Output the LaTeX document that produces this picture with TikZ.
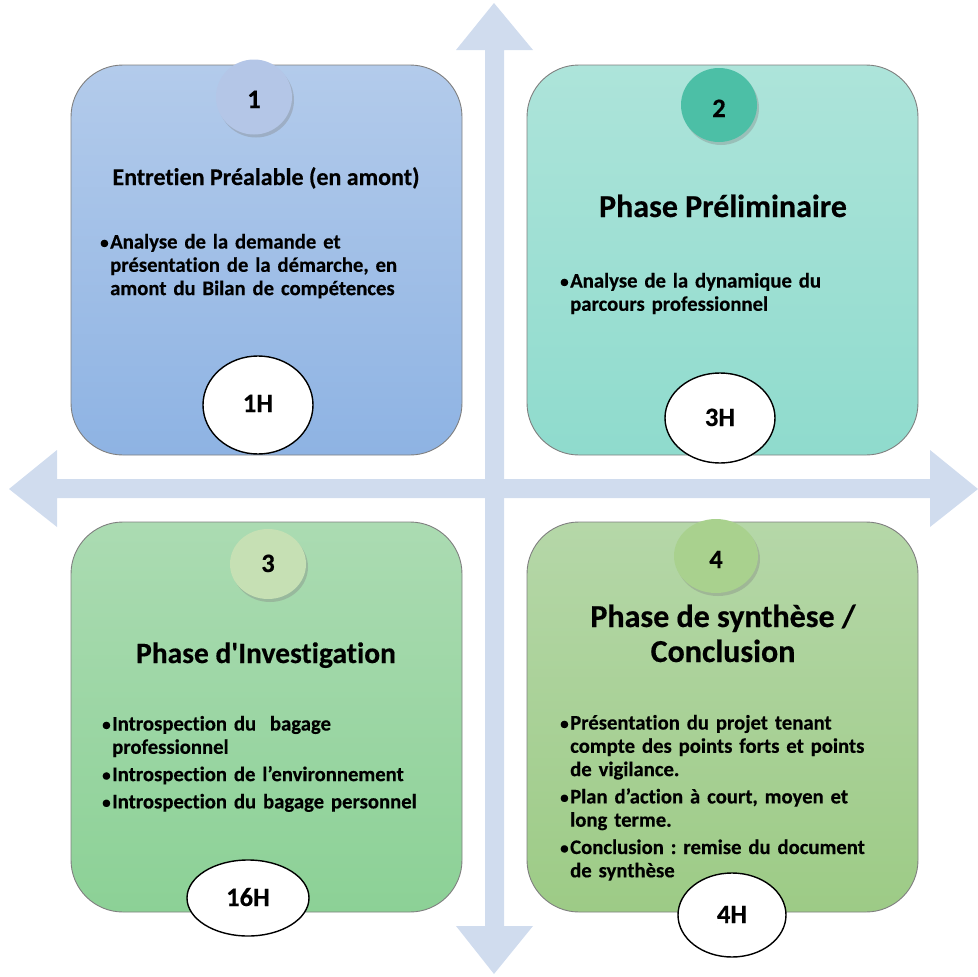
\documentclass[tikz,border=0pt]{standalone}
\usepackage{fontspec}
\setmainfont{Carlito}[Ligatures={TeXOff,NoCommon},BoldFeatures={FakeBold=0.4}]
\usetikzlibrary{shadows}
\frenchspacing
\definecolor{arrowc}{HTML}{D0DCEE}
\definecolor{boxline}{HTML}{7F7F7F}
\definecolor{aTop}{HTML}{B3CBEB}\definecolor{aBot}{HTML}{8EB3E3}
\definecolor{bTop}{HTML}{ADE4DA}\definecolor{bBot}{HTML}{8FDBCD}
\definecolor{cTop}{HTML}{ABDBB2}\definecolor{cBot}{HTML}{8CD196}
\definecolor{dTop}{HTML}{B5D7A8}\definecolor{dBot}{HTML}{9DCB86}
\definecolor{cA}{HTML}{B4C6E7}
\definecolor{cB}{HTML}{4CBFA6}
\definecolor{cC}{HTML}{C6E0B4}
\definecolor{cD}{HTML}{A9D18E}
\newlength{\bulw}\setlength{\bulw}{10pt}
\newcommand{\bitem}[1]{\par\hangindent=\bulw\hangafter=1\noindent\makebox[\bulw][l]{{\fontsize{17}{17}\selectfont\raisebox{0.3pt}{•}}}#1\par}
\newcommand{\igap}{\vspace{4pt}}
\begin{document}
\begin{tikzpicture}[x=1pt,y=-1pt,
  phasebox/.style={draw=boxline,line width=0.9pt,rounded corners=52pt},
  numdisc/.style={drop shadow={shadow xshift=2pt,shadow yshift=-3pt,opacity=0.35}},
  hourell/.style={draw=black,line width=1.4pt,fill=white},
  numtxt/.style={font=\fontsize{26.5}{30}\selectfont\bfseries,inner sep=0pt,anchor=base},
  titletxt/.style={font=\fontsize{32}{35}\selectfont\bfseries,inner sep=0pt,anchor=base,align=center},
  bodytxt/.style={font=\frenchspacing\fontsize{20.7}{23.3}\selectfont\bfseries,inner sep=0pt,anchor=north west,align=left,text width=#1},
  bodytxt/.default=340pt]
\useasboundingbox (0,0) rectangle (978,977);
% cross arrows
\fill[arrowc] (494,3) -- (533,50) -- (504,50) -- (504,926) -- (533,926) -- (494,974) -- (456,926) -- (485,926) -- (485,50) -- (456,50) -- cycle;
\fill[arrowc] (9,489) -- (57,450) -- (57,479) -- (930,479) -- (930,450) -- (978,489) -- (930,527) -- (930,498) -- (57,498) -- (57,527) -- cycle;
% boxes
\shade[phasebox,top color=aTop,bottom color=aBot] (71,65) rectangle (462,455);
\shade[phasebox,top color=bTop,bottom color=bBot] (527,65) rectangle (918,455);
\shade[phasebox,top color=cTop,bottom color=cBot] (71,522) rectangle (462,912);
\shade[phasebox,top color=dTop,bottom color=dBot] (527,522) rectangle (918,912);
% number discs
\fill[cA,numdisc] (254,97) ellipse [x radius=38,y radius=37.5];
\fill[cB,numdisc] (719,105) ellipse [x radius=38,y radius=37];
\fill[cC,numdisc] (268,564) ellipse [x radius=38,y radius=35];
\fill[cD,numdisc] (716,556) ellipse [x radius=42,y radius=37];
\node[numtxt] (n1) at (254,108) {1};
\node[numtxt] (n2) at (719,117) {2};
\node[numtxt] (n3) at (268,572) {3};
\node[numtxt] (n4) at (716,568) {4};
% titles
\node[titletxt,font=\fontsize{24}{28}\selectfont\bfseries] (t1) at (266,185) {Entretien Préalable (en amont)};
\node[titletxt] (t2) at (723,217) {Phase Préliminaire};
\node[titletxt,font=\fontsize{29.5}{34}\selectfont\bfseries] (t3) at (266,663) {Phase d'Investigation};
\node[titletxt] (t4) at (723,662) {Phase de synthèse /\\Conclusion};
% bodies
\node[bodytxt] (b1) at (100,225) {\bitem{Analyse de la demande et\newline présentation de la démarche, en\newline amont du Bilan de compétences}};
\node[bodytxt] (b2) at (560,264) {\bitem{Analyse de la dynamique du\newline parcours professionnel}};
\node[bodytxt] (b3) at (102,707) {\bitem{Introspection du\ \ bagage\newline professionnel}\igap\bitem{Introspection de l’environnement}\igap\bitem{Introspection du bagage personnel}};
\node[bodytxt] (b4) at (560,706) {\bitem{Présentation du projet tenant\newline compte des points forts et points\newline de vigilance.}\igap\bitem{Plan d’action à court, moyen et\newline long terme.}\igap\bitem{Conclusion : remise du document\newline de synthèse}};
% hour ellipses
\draw[hourell] (258,405) ellipse [x radius=55,y radius=49];
\draw[hourell] (720,418) ellipse [x radius=55,y radius=45];
\draw[hourell] (248,898) ellipse [x radius=61,y radius=38];
\draw[hourell] (732,915) ellipse [x radius=54,y radius=42];
\node[numtxt] (h1) at (258,412) {1H};
\node[numtxt] (h2) at (720,426) {3H};
\node[numtxt] (h3) at (248,906) {16H};
\node[numtxt] (h4) at (732,923) {4H};
\end{tikzpicture}
\end{document}
